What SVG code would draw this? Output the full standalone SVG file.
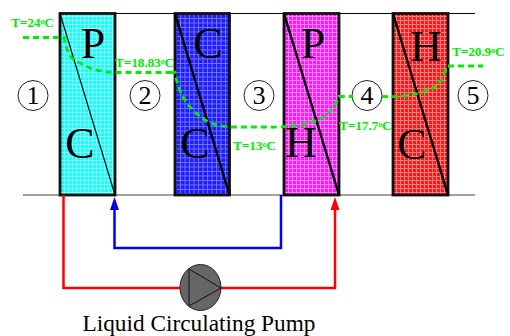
<svg xmlns="http://www.w3.org/2000/svg" width="510" height="336" viewBox="0 0 510 336">
<style>
text{font-family:"Liberation Serif","Times New Roman",serif;fill:#000}
.big{font-size:44px;text-anchor:middle}
.num{font-size:26px;text-anchor:middle}
.t{font-size:13.500px;font-weight:bold;fill:#00ee00;letter-spacing:-0.2px}
.sup{font-size:8px;font-weight:bold;fill:#00ee00}
.box{stroke:#111;stroke-width:2.800}
.circ{fill:#fff;stroke:#222;stroke-width:1}
.d{fill:none;stroke:#000;stroke-width:2.500}
.green{fill:none;stroke:#00ee00;stroke-width:2.800;stroke-dasharray:6 4}
</style>
<defs>
<pattern id="g1" width="4" height="4" patternUnits="userSpaceOnUse"><rect width="4" height="4" fill="#10ffff"/><path d="M0 .5H4M.5 0V4" stroke="#90ffff" stroke-width="1"/></pattern>
<pattern id="g2" width="4.500" height="4.500" patternUnits="userSpaceOnUse"><rect width="4.500" height="4.500" fill="#1c1cff"/><path d="M0 .5H4.500M.5 0V4.500" stroke="#7474ff" stroke-width="1"/></pattern>
<pattern id="g3" width="4" height="4" patternUnits="userSpaceOnUse"><rect width="4" height="4" fill="#ff18ff"/><path d="M0 .5H4M.5 0V4" stroke="#ff88ff" stroke-width="1"/></pattern>
<pattern id="g4" width="4" height="4" patternUnits="userSpaceOnUse"><rect width="4" height="4" fill="#ff1818"/><path d="M0 .5H4M.5 0V4" stroke="#ff8080" stroke-width="1"/></pattern>
</defs>
<g id="rails">
<path d="M60 13.500H475" stroke="#000" stroke-width="1.200"/>
<path d="M23 195H475" stroke="#808080" stroke-width="1.500"/>
</g>
<g id="hx1"><rect class="box" x="60" y="13.500" width="55" height="181.500" fill="url(#g1)"/><path d="M60 13.500L115 195" stroke="#000" stroke-width="1.200"/><text class="big" x="93" y="58">P</text><text class="big" x="80" y="158">C</text></g>
<g id="hx2"><rect class="box" x="175" y="13.500" width="54.500" height="181.500" fill="url(#g2)"/><path class="d" d="M175 13.500L229.500 195"/><text class="big" x="208" y="58">C</text><text class="big" x="195" y="158">C</text></g>
<g id="hx3"><rect class="box" x="284" y="13.500" width="55" height="181.500" fill="url(#g3)"/><path class="d" d="M284 13.500L339 195"/><text class="big" x="313" y="58">P</text><text class="big" x="301" y="157">H</text></g>
<g id="hx4"><rect class="box" x="393" y="13.500" width="55" height="181.500" fill="url(#g4)"/><path class="d" d="M393 13.500L448 195"/><text class="big" x="426" y="61">H</text><text class="big" x="412" y="159">C</text></g>
<g id="state1"><circle class="circ" cx="33" cy="95.500" r="15"/><text class="num" x="33" y="104">1</text></g>
<g id="state2"><circle class="circ" cx="145" cy="95.500" r="15"/><text class="num" x="145" y="104">2</text></g>
<g id="state3"><circle class="circ" cx="259" cy="95.500" r="15"/><text class="num" x="259" y="104">3</text></g>
<g id="state4"><circle class="circ" cx="367" cy="95.500" r="15"/><text class="num" x="367" y="104">4</text></g>
<g id="state5"><circle class="circ" cx="473" cy="95.500" r="15"/><text class="num" x="473" y="104">5</text></g>
<g id="connectors">
<path class="green" d="M23 37.500H64C67 52 70 60 80 63C92 70 102 72 115 72.500H170"/>
<path class="green" d="M170 72.500H175C178 90 184 102 195 112C205 122 215 126 230 127H270C285 127.500 305 125 318 120C330 114 336 105 339 96.500H353"/>
<path class="green" d="M382 96.500C400 97 412 96 425 91C440 88 443 78 447 66H483"/>
<path fill="none" stroke="#0000ff" stroke-width="2.500" d="M281 195V248H114.500V208"/>
<path d="M114.500 197L110 210H119Z" fill="#0000ff"/>
<path fill="none" stroke="#ff0000" stroke-width="2.500" d="M63.500 195V288H180M221 288H335V208"/>
<path d="M335 197L330.500 210H339.500Z" fill="#ff0000"/>
</g>
<g id="pump"><ellipse cx="200.500" cy="287.500" rx="20.500" ry="23" fill="#666" stroke="#222" stroke-width="1"/><path d="M189 269V306L221 288Z" fill="#666" stroke="#111" stroke-width="1"/></g>
<g id="labels">
<text class="t" x="11" y="27">T=24<tspan class="sup" dy="-3">o</tspan><tspan dy="3">C</tspan></text>
<text class="t" x="115" y="67">T=18.83<tspan class="sup" dy="-3">o</tspan><tspan dy="3">C</tspan></text>
<text class="t" x="233" y="150">T=13<tspan class="sup" dy="-3">o</tspan><tspan dy="3">C</tspan></text>
<text class="t" x="339" y="130">T=17.7<tspan class="sup" dy="-3">o</tspan><tspan dy="3">C</tspan></text>
<text class="t" x="452" y="56">T=20.9<tspan class="sup" dy="-3">o</tspan><tspan dy="3">C</tspan></text>
<text x="199" y="331" font-size="23.300" text-anchor="middle">Liquid Circulating Pump</text>
</g>
</svg>
